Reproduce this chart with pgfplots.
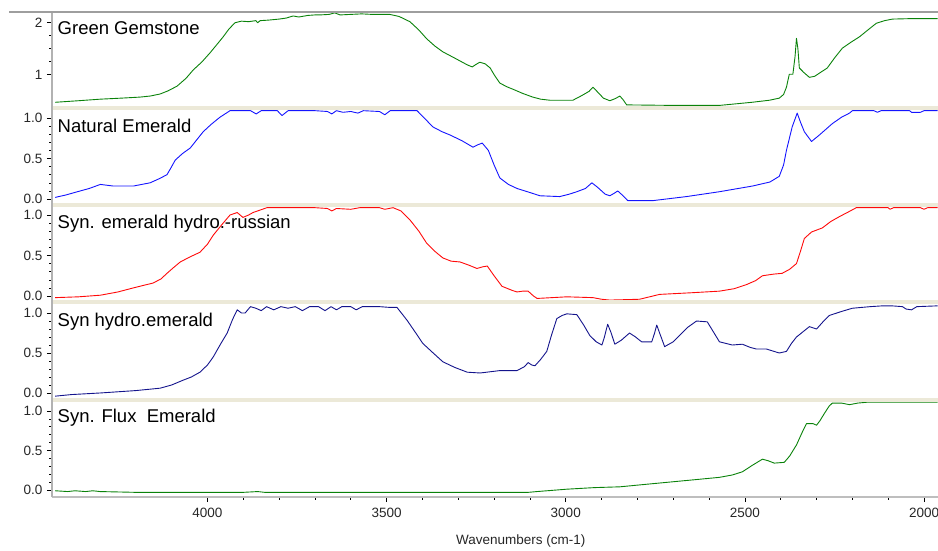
\documentclass[border=0pt]{standalone}
\usepackage{pgfplots}
\pgfplotsset{compat=1.18}
\usepackage{fontspec}
\setmainfont{Liberation Sans}

\definecolor{sepbeige}{RGB}{236,233,216}
\definecolor{axgray}{RGB}{178,178,178}
\definecolor{spgreen}{RGB}{10,130,10}
\definecolor{spblue}{RGB}{20,20,255}
\definecolor{spred}{RGB}{255,10,10}
\definecolor{spnavy}{RGB}{20,20,140}

\pgfplotsset{
  panel/.style={
    scale only axis, width=886pt,
    xmin=1961, xmax=4434, x dir=reverse,
    axis y line*=left,
    axis line style={draw=axgray, line width=1.6pt},
    tick style={black, line width=0.6pt},
    major tick length=5pt, minor tick length=2.5pt,
    tick align=outside,
    /pgf/number format/assume math mode=true,
    ticklabel style={font=\fontsize{13.5}{15}\selectfont, text=black!85},
    yticklabel style={xshift=-1pt},
    line join=round,
  },
  upper/.style={axis x line=none},
  unitpanel/.style={
    ytick={0,0.5,1}, minor y tick num=4,
    yticklabel={\pgfmathprintnumber[fixed,fixed zerofill,precision=1]{\tick}},
  },
  spec/.style={line width=0.9pt},
}

\begin{document}
\begin{tikzpicture}
\useasboundingbox (0pt,0pt) rectangle (938pt,-550pt);

% Green Gemstone
\begin{axis}[panel, upper, at={(52pt,-108pt)}, anchor=south west, height=96pt,
  ymin=0.36, ymax=2.206, ytick={1,2}, minor y tick num=3]
\addplot[spec, spgreen] coordinates {
(4425,0.47) (4360,0.50) (4299,0.53) (4240,0.55) (4188,0.57) (4160,0.59) (4132,0.63)
(4110,0.69) (4085,0.78) (4060,0.93) (4040,1.09) (4015,1.25) (3993,1.42) (3975,1.57)
(3956,1.73) (3940,1.88) (3923,2.00) (3905,2.03) (3885,2.02) (3865,2.04) (3860,2.00)
(3853,2.04) (3830,2.05) (3800,2.07) (3780,2.09) (3761,2.13) (3745,2.11) (3720,2.14)
(3700,2.15) (3686,2.15) (3660,2.16) (3645,2.19) (3630,2.15) (3600,2.16) (3570,2.17)
(3540,2.16) (3491,2.16) (3465,2.12) (3435,2.02) (3410,1.86) (3388,1.69) (3365,1.55)
(3343,1.44) (3310,1.32) (3275,1.19) (3261,1.15) (3250,1.20) (3240,1.24) (3225,1.21)
(3211,1.13) (3198,0.98) (3184,0.84) (3165,0.77) (3147,0.72) (3120,0.64) (3092,0.57)
(3070,0.53) (3045,0.51) (2980,0.51) (2955,0.60) (2935,0.68) (2924,0.76) (2910,0.66)
(2895,0.55) (2877,0.50) (2862,0.54) (2849,0.59) (2840,0.52) (2830,0.42) (2700,0.41)
(2571,0.41) (2480,0.47) (2431,0.51) (2404,0.55) (2392,0.62) (2384,0.76) (2376,1.01)
(2366,1.01) (2360,1.35) (2356,1.70) (2352,1.50) (2348,1.13) (2335,1.04) (2320,0.95)
(2305,0.97) (2292,1.03) (2270,1.13) (2250,1.32) (2228,1.51) (2205,1.62) (2180,1.73)
(2155,1.87) (2133,1.99) (2110,2.04) (2088,2.07) (2030,2.08) (1962,2.08)};
\end{axis}

% Natural Emerald
\begin{axis}[panel, upper, unitpanel, at={(52pt,-205pt)}, anchor=south west, height=97pt,
  ymin=-0.074, ymax=1.123]
\addplot[spec, spblue] coordinates {
(4425,0.02) (4395,0.05) (4363,0.09) (4330,0.13) (4299,0.18) (4263,0.16) (4207,0.16)
(4160,0.20) (4135,0.25) (4113,0.30) (4100,0.40) (4090,0.48) (4070,0.56) (4048,0.63)
(4030,0.73) (4012,0.83) (3990,0.92) (3965,1.01) (3937,1.09) (3880,1.09) (3864,1.05)
(3850,1.09) (3805,1.09) (3792,1.03) (3775,1.09) (3700,1.09) (3665,1.08) (3653,1.05)
(3640,1.09) (3622,1.07) (3600,1.08) (3580,1.06) (3565,1.09) (3520,1.08) (3505,1.04)
(3490,1.09) (3415,1.09) (3395,1.00) (3371,0.89) (3345,0.83) (3323,0.79) (3290,0.72)
(3259,0.64) (3245,0.67) (3233,0.69) (3216,0.60) (3200,0.42) (3184,0.26) (3160,0.18)
(3136,0.13) (3100,0.08) (3072,0.04) (3017,0.03) (2990,0.06) (2969,0.09) (2945,0.13)
(2927,0.20) (2910,0.14) (2890,0.06) (2877,0.04) (2865,0.07) (2855,0.10) (2840,0.04)
(2827,-0.02) (2757,-0.02) (2663,0.03) (2571,0.09) (2479,0.16) (2430,0.21) (2404,0.28)
(2392,0.42) (2384,0.60) (2368,0.89) (2354,1.06) (2345,0.95) (2334,0.83) (2314,0.71)
(2292,0.79) (2256,0.93) (2230,1.01) (2208,1.06) (2200,1.09) (2140,1.09) (2130,1.07)
(2120,1.09) (2040,1.09) (2035,1.07) (2010,1.07) (2000,1.09) (1962,1.09)};
\end{axis}

% Syn. emerald hydro.-russian
\begin{axis}[panel, upper, unitpanel, at={(52pt,-302pt)}, anchor=south west, height=97pt,
  ymin=-0.074, ymax=1.123]
\addplot[spec, spred] coordinates {
(4425,-0.02) (4360,-0.01) (4299,0.01) (4250,0.05) (4207,0.10) (4152,0.16) (4130,0.21)
(4113,0.28) (4095,0.35) (4076,0.42) (4050,0.48) (4021,0.54) (4000,0.64) (3984,0.75)
(3960,0.88) (3937,1.00) (3917,1.03) (3901,0.97) (3885,1.00) (3873,1.03) (3834,1.09)
(3700,1.09) (3665,1.08) (3653,1.05) (3640,1.08) (3600,1.07) (3575,1.09) (3520,1.09)
(3505,1.07) (3482,1.09) (3460,1.05) (3435,0.94) (3410,0.80) (3388,0.65) (3365,0.55)
(3343,0.47) (3320,0.43) (3295,0.42) (3270,0.38) (3248,0.34) (3232,0.36) (3219,0.37)
(3200,0.25) (3178,0.12) (3150,0.07) (3136,0.05) (3120,0.06) (3105,0.06) (3090,0.00)
(3080,-0.03) (2997,-0.01) (2924,-0.02) (2900,-0.04) (2877,-0.05) (2794,-0.04)
(2738,0.02) (2650,0.04) (2571,0.06) (2530,0.09) (2496,0.14) (2470,0.19) (2451,0.25)
(2420,0.27) (2396,0.28) (2375,0.33) (2356,0.40) (2345,0.55) (2334,0.71) (2314,0.79)
(2284,0.84) (2260,0.92) (2236,0.98) (2210,1.04) (2189,1.09) (2100,1.09) (2095,1.07)
(2085,1.09) (2010,1.09) (2000,1.07) (1990,1.09) (1962,1.09)};
\end{axis}

% Syn hydro.emerald
\begin{axis}[panel, upper, unitpanel, at={(52pt,-400pt)}, anchor=south west, height=98pt,
  ymin=-0.088, ymax=1.138]
\addplot[spec, spnavy] coordinates {
(4425,-0.04) (4380,-0.02) (4299,0.00) (4200,0.03) (4132,0.06) (4100,0.10) (4068,0.16)
(4045,0.20) (4021,0.26) (4000,0.35) (3984,0.45) (3965,0.60) (3945,0.75) (3930,0.92)
(3917,1.04) (3905,1.00) (3895,1.00) (3880,1.08) (3865,1.06) (3850,1.03) (3835,1.08)
(3815,1.04) (3795,1.08) (3775,1.06) (3755,1.08) (3735,1.03) (3715,1.08) (3690,1.08)
(3672,1.03) (3655,1.08) (3640,1.04) (3625,1.08) (3600,1.08) (3585,1.04) (3568,1.08)
(3520,1.08) (3490,1.07) (3471,1.07) (3443,0.91) (3420,0.76) (3399,0.62) (3370,0.50)
(3343,0.39) (3310,0.32) (3275,0.26) (3239,0.25) (3184,0.28) (3136,0.28) (3115,0.33)
(3105,0.38) (3095,0.35) (3086,0.34) (3070,0.42) (3053,0.52) (3040,0.72) (3025,0.93)
(3010,0.97) (2997,0.99) (2969,0.98) (2950,0.85) (2933,0.72) (2915,0.64) (2899,0.60)
(2892,0.70) (2883,0.86) (2874,0.76) (2863,0.61) (2845,0.66) (2822,0.75) (2805,0.70)
(2794,0.66) (2788,0.64) (2760,0.64) (2752,0.75) (2746,0.85) (2738,0.75) (2724,0.58)
(2700,0.64) (2682,0.72) (2660,0.82) (2635,0.90) (2605,0.89) (2590,0.78) (2571,0.64)
(2535,0.60) (2507,0.61) (2485,0.57) (2468,0.55) (2440,0.55) (2404,0.50) (2384,0.52)
(2370,0.62) (2356,0.70) (2320,0.83) (2300,0.80) (2280,0.90) (2264,0.97) (2230,1.02)
(2200,1.06) (2150,1.08) (2116,1.09) (2090,1.09) (2060,1.08) (2050,1.05) (2035,1.04)
(2020,1.08) (1962,1.09)};
\end{axis}

% Syn. Flux Emerald, carrying the wavenumber axis
\begin{axis}[panel, unitpanel, at={(52pt,-497pt)}, anchor=south west, height=97pt,
  ymin=-0.089, ymax=1.139,
  axis x line*=bottom,
  x axis line style={line width=2.6pt, draw=axgray!85},
  xtick={2000,2500,3000,3500,4000}, minor x tick num=4,
  xticklabel={\pgfmathprintnumber[int detect]{\tick}},
  xticklabel style={/pgf/number format/1000 sep={}, yshift=-3pt},
  xlabel={Wavenumbers (cm-1)},
  xlabel style={font=\fontsize{13.5}{15}\selectfont, text=black!85,
    at={(rel axis cs:0.529,0)}, anchor=center, yshift=-44pt}]
\addplot[spec, spgreen] coordinates {
(4425,-0.01) (4390,-0.02) (4370,-0.01) (4340,-0.02) (4320,-0.01) (4300,-0.02)
(4200,-0.03) (4000,-0.03) (3900,-0.03) (3860,-0.02) (3840,-0.03) (3700,-0.03)
(3600,-0.03) (3400,-0.03) (3105,-0.03) (3080,-0.02) (2997,0.01) (2920,0.03)
(2849,0.04) (2780,0.07) (2710,0.10) (2640,0.13) (2571,0.16) (2535,0.19) (2507,0.23)
(2480,0.31) (2451,0.39) (2435,0.37) (2418,0.34) (2390,0.35) (2375,0.43) (2356,0.57)
(2340,0.73) (2328,0.84) (2310,0.84) (2300,0.82) (2290,0.88) (2278,0.97) (2265,1.06)
(2256,1.10) (2230,1.10) (2208,1.08) (2185,1.10) (2161,1.11) (1962,1.11)};
\end{axis}

% frame lines between the panels
\draw[draw=black!38, line width=2pt] (9pt,-12pt) -- (938pt,-12pt);
\foreach \yy in {108,205,302,400}
  \draw[draw=sepbeige, line width=3.6pt] (53pt,-\yy pt) -- (938pt,-\yy pt);

% panel captions
\begin{scope}[every node/.style={anchor=base west, inner sep=0pt,
    font=\fontsize{18.5}{20}\selectfont}]
  \node at (57.5pt,-34.3pt) {Green Gemstone};
  \node at (57.5pt,-132pt) {Natural Emerald};
  \node at (57.5pt,-228.3pt) {Syn. emerald hydro.-russian};
  \node at (57.5pt,-326pt) {Syn hydro.emerald};
  \node at (57.5pt,-422.7pt) {Syn. Flux\ \ Emerald};
\end{scope}
\end{tikzpicture}
\end{document}
